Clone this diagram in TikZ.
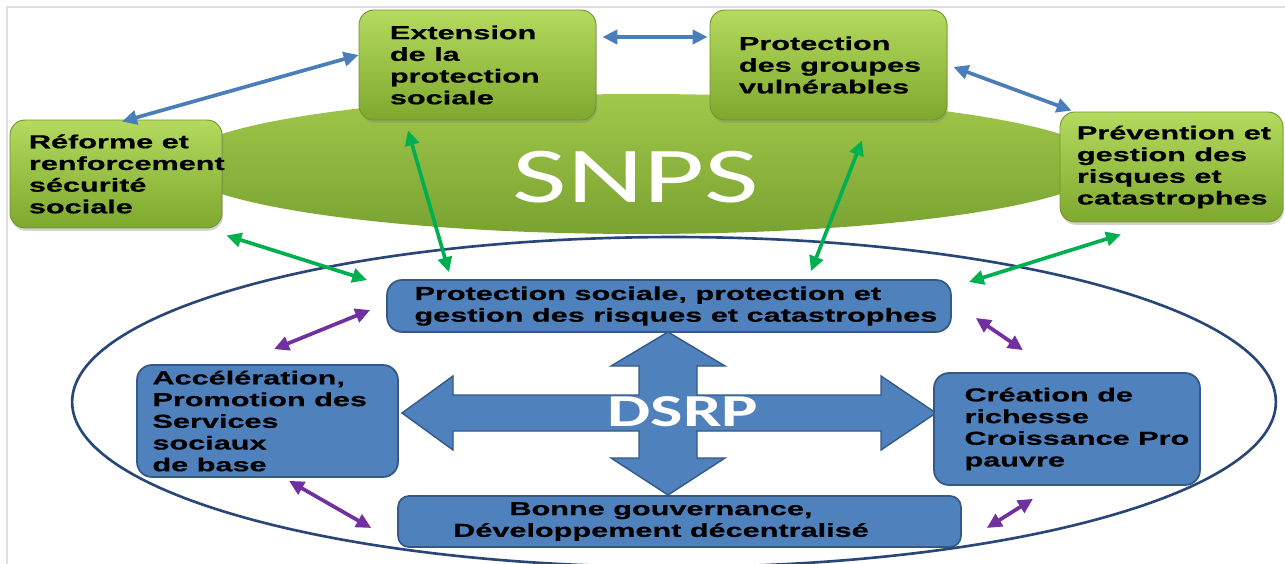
\documentclass[tikz,border=0pt]{standalone}
\usepackage{fontspec}
\newfontfamily\boxfont[FakeStretch=1.63,BoldFeatures={FakeBold=0.6}]{Liberation Sans}
\newfontfamily\titlefont[FakeStretch=1.5]{Carlito}
\usetikzlibrary{shadows,arrows.meta}
\definecolor{gtop}{RGB}{180,218,94}
\definecolor{gbot}{RGB}{126,168,46}
\definecolor{gborder}{RGB}{112,148,44}
\definecolor{etop}{RGB}{160,200,74}
\definecolor{ebot}{RGB}{122,162,50}
\definecolor{bfill}{RGB}{79,129,189}
\definecolor{bborder}{RGB}{52,88,135}
\definecolor{navy}{RGB}{40,70,120}
\definecolor{arrblue}{RGB}{74,126,187}
\definecolor{arrgreen}{RGB}{0,176,80}
\definecolor{arrpurple}{RGB}{112,48,160}
\definecolor{framegray}{RGB}{222,222,222}
\begin{document}
\begin{tikzpicture}[x=0.02cm,y=-0.02cm,
  gbox/.style={rounded corners=0.3cm, draw=gborder, line width=0.5pt,
    top color=gtop, bottom color=gbot, inner sep=0pt,
    drop shadow={opacity=0.35,shadow xshift=0.6pt,shadow yshift=-1.6pt}},
  bbox/.style={rounded corners=0.3cm, draw=bborder, line width=1pt, fill=bfill, inner sep=0pt},
  txt/.style={inner sep=0pt, align=left, anchor=west,
    font=\boxfont\bfseries\fontsize{10.7}{12.35}\selectfont},
  conn/.style={line width=2.1pt, {Triangle[length=8.5pt,width=8pt]}-{Triangle[length=8.5pt,width=8pt]}},
]
\useasboundingbox (0,0) rectangle (1285,564);
\draw[framegray, line width=0.6pt] (7,564) -- (7,7) -- (1285,7);

% SNPS ellipse
\shade[top color=etop, bottom color=ebot] (641,164) ellipse [x radius=9.28cm, y radius=1.4cm];
\node[font=\titlefont\fontsize{45}{50}\selectfont, text=white, inner sep=0pt] (snps) at (636,177) {SNPS};

% DSRP ellipse
\draw[navy, line width=1.5pt] (674,402) ellipse [x radius=12.04cm, y radius=3.3cm];

% green boxes
\node[gbox, minimum width=4.24cm, minimum height=2.16cm] (ref) at (116,174) {};
\node[txt] (ref-t) at ([xshift=0.38cm]ref.west) {Réforme et\\renforcement\\sécurité\\sociale};
\node[gbox, minimum width=4.74cm, minimum height=2.2cm] (ext) at (477.5,65) {};
\node[txt] (ext-t) at ([xshift=0.62cm]ext.west) {Extension\\de la\\protection\\sociale};
\node[gbox, minimum width=4.74cm, minimum height=2.2cm] (grp) at (828.5,65) {};
\node[txt] (grp-t) at ([xshift=0.58cm]grp.west) {Protection\\des groupes\\vulnérables};
\node[gbox, minimum width=4.46cm, minimum height=2.2cm] (prev) at (1171.5,167) {};
\node[txt] (prev-t) at ([xshift=0.34cm]prev.west) {Prévention et\\gestion des\\risques et\\catastrophes};

% cross arrow
\draw[bborder, line width=0.8pt, fill=bfill]
  (668,332) -- (725,366) -- (697,366) -- (697,395) -- (881,395) -- (881,376) -- (936,413)
  -- (881,450) -- (881,431) -- (697,431) -- (697,458) -- (725,458) -- (668,495)
  -- (611,458) -- (639,458) -- (639,431) -- (453,431) -- (453,450) -- (402,413)
  -- (453,376) -- (453,395) -- (639,395) -- (639,366) -- (611,366) -- cycle;
\node[font=\titlefont\bfseries\fontsize{26}{30}\selectfont, text=white, inner sep=0pt] (dsrp) at (683,412) {DSRP};

% blue boxes
\node[bbox, minimum width=11.28cm, minimum height=1.04cm] (ps) at (669,306) {};
\node[txt] (ps-t) at ([xshift=0.56cm]ps.west) {Protection sociale, protection et\\gestion des risques et catastrophes};
\node[bbox, minimum width=5.22cm, minimum height=2.24cm] (acc) at (267.5,421) {};
\node[txt] (acc-t) at ([xshift=0.32cm]acc.west) {Accélération,\\Promotion des\\Services\\sociaux\\de base};
\node[bbox, minimum width=5.32cm, minimum height=2.24cm] (cre) at (1067,429) {};
\node[txt] (cre-t) at ([xshift=0.62cm]cre.west) {Création de\\richesse\\Croissance Pro\\pauvre};
\node[bbox, rounded corners=0.22cm, minimum width=11.26cm, minimum height=1.02cm] (bon) at (679.5,521.5) {};
\node[txt, anchor=center, align=center] (bon-t) at ([xshift=-0.37cm]bon.center) {Bonne gouvernance,\\Développement décentralisé};

% blue connectors
\draw[conn, arrblue] ([shift={(6,2)}]ref.north) -- ([shift={(0,-10)}]ext.west);
\draw[conn, arrblue] ([shift={(6,-28)}]ext.east) -- ([shift={(-2,-28)}]grp.west);
\draw[conn, arrblue] ([shift={(6,2)}]grp.east) -- ([shift={(12,-1)}]prev.north west);

% green connectors
\draw[conn, arrgreen] ([shift={(4,7)}]ref.south east) -- ([shift={(-19,-26)}]ps.west);
\draw[conn, arrgreen] ([shift={(-69.5,10)}]ext.south) -- ([shift={(-220,-7)}]ps.north);
\draw[conn, arrgreen] ([shift={(33.5,20)}]grp.south) -- ([shift={(142,-8)}]ps.north);
\draw[conn, arrgreen] ([shift={(-50.5,12)}]prev.south) -- ([shift={(17,-24)}]ps.east);

% purple connectors
\draw[conn, arrpurple] ([shift={(-16,4)}]ps.west) -- ([shift={(6.5,-15)}]acc.north);
\draw[conn, arrpurple] ([shift={(21.5,3)}]acc.south) -- ([shift={(-26,6.5)}]bon.west);
\draw[conn, arrpurple] ([shift={(24,12)}]ps.east) -- ([shift={(-44,-22)}]cre.north);
\draw[conn, arrpurple] ([shift={(-34,13)}]cre.south) -- ([shift={(25,6.5)}]bon.east);
\end{tikzpicture}
\end{document}
